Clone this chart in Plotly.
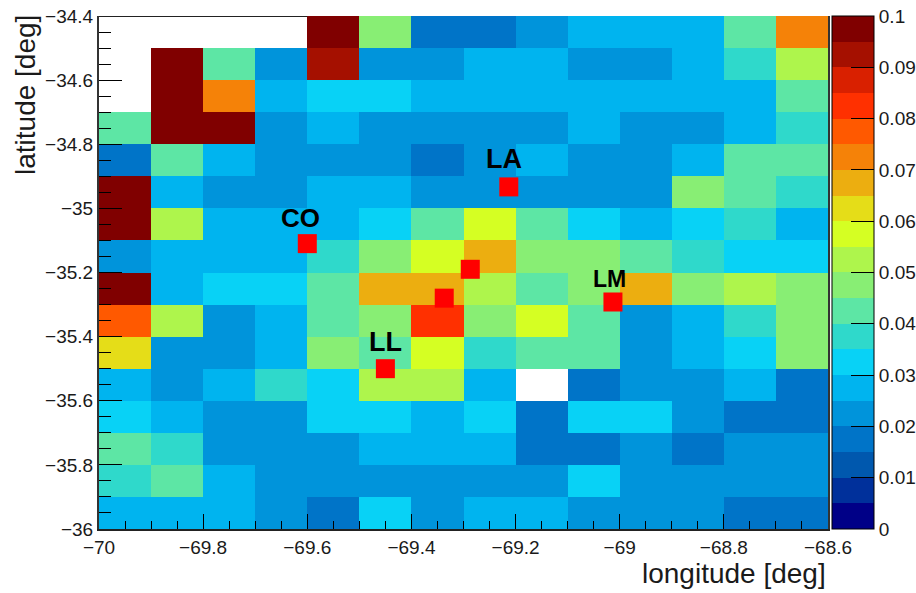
import plotly.graph_objects as go

lon_edges = [round(-70 + 0.1 * i, 1) for i in range(15)]
lat_edges = [round(-34.4 - 0.1 * i, 1) for i in range(17)]

_ = None
# cell values, top row (lat -34.4) first, left column (lon -70) first
fraction = [
    [_, _, _, _, .0975, .0475, .0175, .0175, .0225, .0275, .0275, .0275, .0425, .0725],
    [_, .0975, .0425, .0225, .0925, .0225, .0225, .0275, .0275, .0225, .0225, .0275, .0375, .0525],
    [_, .0975, .0725, .0275, .0325, .0325, .0275, .0275, .0275, .0275, .0275, .0275, .0275, .0425],
    [.0425, .0975, .0975, .0225, .0275, .0225, .0225, .0225, .0225, .0275, .0225, .0225, .0275, .0375],
    [.0175, .0425, .0275, .0225, .0225, .0225, .0175, .0225, .0275, .0225, .0225, .0275, .0425, .0425],
    [.0975, .0275, .0225, .0225, .0275, .0275, .0225, .0225, .0225, .0225, .0225, .0475, .0425, .0375],
    [.0975, .0525, .0275, .0275, .0275, .0325, .0425, .0575, .0425, .0325, .0275, .0325, .0375, .0275],
    [.0225, .0275, .0275, .0275, .0375, .0475, .0575, .0675, .0475, .0475, .0425, .0375, .0325, .0325],
    [.0975, .0275, .0325, .0325, .0425, .0675, .0675, .0525, .0425, .0475, .0675, .0475, .0525, .0475],
    [.0775, .0525, .0225, .0275, .0425, .0475, .0825, .0475, .0575, .0425, .0225, .0275, .0375, .0475],
    [.0625, .0225, .0225, .0275, .0475, .0425, .0575, .0375, .0425, .0425, .0225, .0275, .0325, .0475],
    [.0275, .0225, .0275, .0375, .0325, .0525, .0525, .0275, _, .0175, .0225, .0225, .0275, .0175],
    [.0325, .0275, .0225, .0225, .0325, .0325, .0275, .0325, .0175, .0325, .0325, .0225, .0175, .0175],
    [.0425, .0375, .0225, .0225, .0225, .0275, .0275, .0275, .0175, .0175, .0225, .0175, .0225, .0225],
    [.0375, .0425, .0275, .0225, .0225, .0225, .0225, .0225, .0225, .0325, .0225, .0225, .0225, .0225],
    [.0275, .0275, .0275, .0225, .0175, .0325, .0225, .0275, .0275, .0225, .0225, .0225, .0175, .0175],
]

palette = ["#000087", "#00309b", "#0058ae", "#0074c8", "#0094db", "#00b4ef", "#08d2f6",
           "#2fd9cb", "#5de6a5", "#88ee74", "#aef54c", "#d5ff23", "#e5dd18", "#ecae10",
           "#f58208", "#ff5900", "#ff3000", "#d92000", "#a51000", "#800000"]

site_lon = [-69.213, -69.600, -69.287, -69.337, -69.013, -69.450]
site_lat = [-34.933, -35.110, -35.190, -35.280, -35.292, -35.500]

label_text = ["LA", "CO", "LM", "LL"]
label_lon = [-69.222, -69.614, -69.019, -69.450]
label_lat = [-34.846, -35.030, -35.220, -35.417]
label_size = [27, 26, 23, 27]

colorscale = []
n = len(palette)
for i, c in enumerate(palette):
    colorscale.append([i / n, c])
    colorscale.append([(i + 1) / n, c])

FONT = "Liberation Sans"
INK = "#1a1a1a"
tick_font = dict(family=FONT, size=19, color=INK)

fig = go.Figure()
fig.add_trace(go.Heatmap(
    x=lon_edges,
    y=lat_edges[::-1],
    z=fraction[::-1],
    zmin=0, zmax=0.1,
    colorscale=colorscale,
    hoverongaps=False,
    colorbar=dict(
        x=1 + 4 / 729, xanchor="left", xpad=0,
        y=0, yanchor="bottom", ypad=0, len=1,
        thickness=42,
        tick0=0, dtick=0.01,
        ticks="inside", ticklen=23, tickwidth=1, tickcolor="black",
        tickfont=tick_font,
        outlinecolor="black", outlinewidth=1,
    ),
))
fig.add_trace(go.Scatter(
    x=site_lon, y=site_lat, mode="markers",
    marker=dict(symbol="square", size=19, color="#ff0000", line=dict(width=0)),
    showlegend=False,
))

for t, lo, la, s in zip(label_text, label_lon, label_lat, label_size):
    fig.add_annotation(x=lo, y=la, text=f"<b>{t}</b>", showarrow=False,
                       xanchor="center", yanchor="middle",
                       font=dict(family=FONT, size=s, color="black"))

fig.add_annotation(xref="paper", yref="paper", x=1, y=0, yshift=-44,
                   text="longitude [deg]", showarrow=False,
                   xanchor="right", yanchor="middle",
                   font=dict(family=FONT, size=28, color=INK))
fig.add_annotation(xref="paper", yref="paper", x=0, y=1, xshift=-74, yshift=3,
                   text="latitude [deg]", textangle=-90, showarrow=False,
                   xanchor="center", yanchor="top",
                   font=dict(family=FONT, size=28, color=INK))

# the frame's top edge is only visible over the empty cells
fig.add_shape(type="line", x0=lon_edges[0], x1=lon_edges[4], y0=lat_edges[0], y1=lat_edges[0],
              line=dict(color="#222222", width=2), layer="above")

fig.update_xaxes(
    range=[-70, -68.6], tick0=-70, dtick=0.2,
    ticks="inside", ticklen=15, tickwidth=1, tickcolor="black",
    tickfont=tick_font,
    minor=dict(tick0=-70, dtick=0.05, ticks="inside", ticklen=8, tickwidth=1, tickcolor="black"),
    showline=True, linecolor="#222222", linewidth=2, mirror=False,
    showgrid=False, zeroline=False,
)
fig.update_yaxes(
    range=[-36, -34.4], tick0=-36, dtick=0.2,
    ticks="inside", ticklen=23, tickwidth=1, tickcolor="black",
    tickfont=tick_font,
    minor=dict(tick0=-36, dtick=0.05, ticks="inside", ticklen=12, tickwidth=1, tickcolor="black"),
    showline=True, linecolor="#333333", linewidth=2, mirror=True,
    showgrid=False, zeroline=False,
)
fig.update_layout(
    width=916, height=593,
    margin=dict(l=99, r=88, t=16, b=64, autoexpand=False),
    paper_bgcolor="white", plot_bgcolor="white",
    showlegend=False,
)
fig.write_html("out.html", config={"displayModeBar": False},
               post_script="document.body.style.margin='0';")
